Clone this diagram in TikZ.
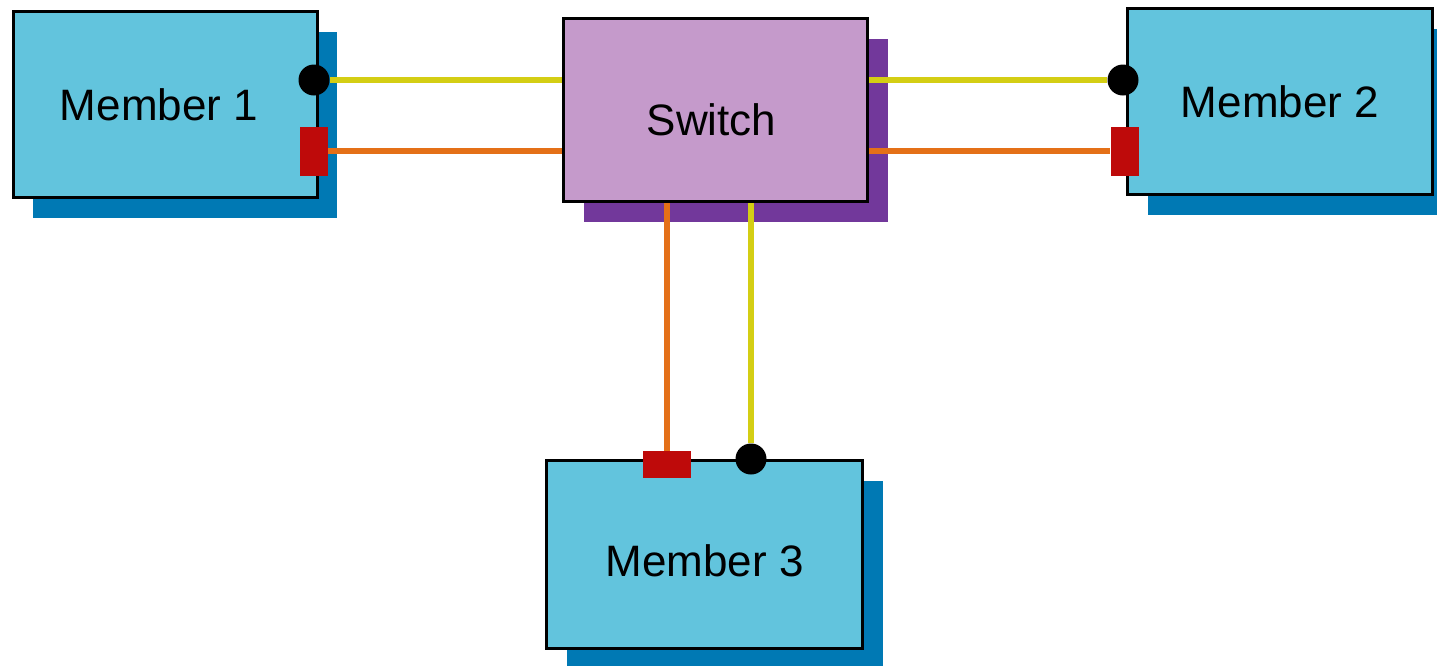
\documentclass[tikz,border=0pt]{standalone}
\usepackage{fontspec}
\setmainfont{Liberation Sans}
\usepackage{tikz}
\usetikzlibrary{shadows}

\definecolor{memfill}{RGB}{98,196,221}
\definecolor{memshade}{RGB}{0,121,180}
\definecolor{swfill}{RGB}{197,154,203}
\definecolor{swshade}{RGB}{114,56,155}
\definecolor{plugred}{RGB}{190,10,10}
\definecolor{ylink}{RGB}{212,206,20}
\definecolor{olink}{RGB}{228,112,24}

\begin{document}
\begin{tikzpicture}[x=0.5pt, y=-0.5pt,
    box/.style={draw, rectangle, line width=1.5pt, font=\fontsize{22}{26}\selectfont},
    member/.style={box, fill=memfill, minimum width=152pt, minimum height=93pt,
        general shadow={fill=memshade, shadow xshift=10pt, shadow yshift=-10pt}},
    switchbox/.style={box, fill=swfill, minimum width=152pt, minimum height=91.5pt,
        general shadow={fill=swshade, shadow xshift=10pt, shadow yshift=-10pt}},
    dot/.style={circle, fill=black, inner sep=0pt, minimum size=15.5pt},
    plug/.style={rectangle, fill=plugred, inner sep=0pt, minimum width=14pt, minimum height=24.5pt},
    plugh/.style={plug, minimum width=24pt, minimum height=13.5pt},
    yline/.style={ylink, line width=2.6pt},
    oline/.style={olink, line width=2.6pt}]
        \useasboundingbox (0,0) rectangle (1437,665);
        % Members around the switch
        \node[member] (mem1) at (165,104.5) {Member 1\hspace*{6pt}};
        \node[switchbox, text height=25pt, text depth=0pt] (sw) at (715.5,110) {Switch\hspace*{4pt}};
        \node[member, minimum width=152.5pt] (mem2) at (1280,101.5) {Member 2};
        \node[member, minimum width=158pt, minimum height=94pt, text height=21.8pt, text depth=0pt] (mem3) at (704.5,554.5) {Member 3};

        % Ports: round ones on the yellow links, square ones on the orange links
        \node[dot] (dot1) at (314,80) {};
        \node[plug] (plug1) at (314,151) {};
        \node[dot] (dot2) at (1123,80) {};
        \node[plug] (plug2) at (1124.5,151) {};
        \node[dot] (dot3) at (751,459) {};
        \node[plugh] (plug3) at (667,464.5) {};

        \draw[yline] (dot1) -- (sw.west |- dot1);
        \draw[oline] (plug1) -- (sw.west |- plug1);
        \draw[yline] (sw.east |- dot2) -- (dot2);
        \draw[oline] (sw.east |- plug2) -- (plug2);
        \draw[oline] (sw.south -| plug3) -- (plug3);
        \draw[yline] (sw.south -| dot3) -- (dot3);
    \end{tikzpicture}
\end{document}
